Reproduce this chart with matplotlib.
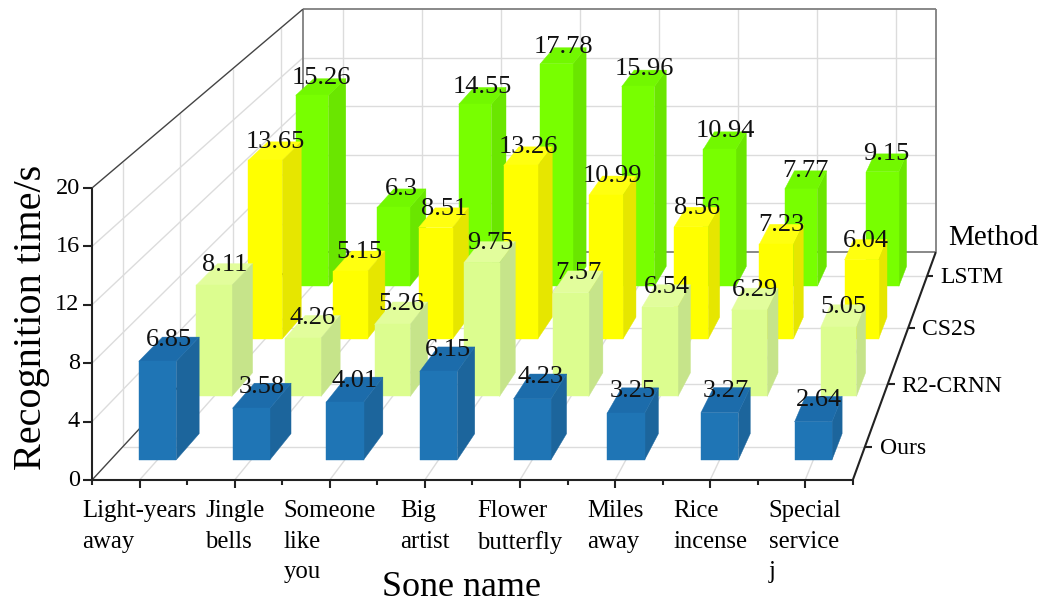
import numpy as np
import matplotlib
matplotlib.use('Agg')
import matplotlib.pyplot as plt
from mpl_toolkits.mplot3d import proj3d
from mpl_toolkits.mplot3d.art3d import Line3DCollection

plt.rcParams['font.family'] = ['Liberation Serif']

songs = ['Light-years\naway', 'Jingle\nbells', 'Someone\nlike\nyou', 'Big\nartist',
         'Flower\nbutterfly', 'Miles\naway', 'Rice\nincense', 'Special\nservice\nj']
methods = ['Ours', 'R2-CRNN', 'CS2S', 'LSTM']

ours = [6.85, 3.58, 4.01, 6.15, 4.23, 3.25, 3.27, 2.64]
r2_crnn = [8.11, 4.26, 5.26, 9.75, 7.57, 6.54, 6.29, 5.05]
cs2s = [13.65, 5.15, 8.51, 13.26, 10.99, 8.56, 7.23, 6.04]
lstm = [15.26, 6.3, 14.55, 17.78, 15.96, 10.94, 7.77, 9.15]
value_labels = [['6.85', '3.58', '4.01', '6.15', '4.23', '3.25', '3.27', '2.64'],
                ['8.11', '4.26', '5.26', '9.75', '7.57', '6.54', '6.29', '5.05'],
                ['13.65', '5.15', '8.51', '13.26', '10.99', '8.56', '7.23', '6.04'],
                ['15.26', '6.3', '14.55', '17.78', '15.96', '10.94', '7.77', '9.15']]
z_ticks = [0, 4, 8, 12, 16, 20]

# front, side, top colour for each method
colours = [('#1f75b5', '#1c659c', '#1c6cab'),
           ('#dcfd8f', '#c6e48a', '#e2fd9c'),
           ('#ffff00', '#e6e600', '#ffff10'),
           ('#78ff00', '#6ae600', '#72f800')]

fig = plt.figure(figsize=(10.41, 6.02), dpi=100)
ax = fig.add_axes([0, 0, 1, 1], projection='3d')
ax.set_axis_off()
ax.computed_zorder = False
ax.apply_aspect = lambda position=None: None


def oblique_proj():
    # front edge stays horizontal and verticals stay vertical, depth recedes to the right
    k = 0.05055
    cam = np.array([[95.1, 68.07, 0, 92],
                    [0, (602 - 252) * (1 + 4 * k) / 4 - 122 / 4, 14.6, 122],
                    [0, k, 0, 1]])
    m = ax.transData.inverted().get_matrix() @ cam
    return np.array([m[0], m[1], [0, 1, 0, 0], m[2]])


ax.get_proj = oblique_proj


def add_segs(segs, color, lw, zorder=1):
    ax.add_collection3d(Line3DCollection(segs, colors=color, linewidths=lw, zorder=zorder))


def label(x, y, z, s, **kw):
    # place the text at the projected spot so it is ordinary 2D text
    px, py, _ = proj3d.proj_transform(x, y, z, oblique_proj())
    ax.text2D(px, py, s, transform=ax.transData, zorder=50, **kw)


# walls and floor grid
grid_segs = []
for z in z_ticks[1:-1]:
    grid_segs.append([(0, 4, z), (8, 4, z)])
    grid_segs.append([(0, 0, z), (0, 4, z)])
for i in range(8):
    grid_segs.append([(i + 0.5, 0, 0), (i + 0.5, 4, 0)])
    grid_segs.append([(i + 0.5, 4, 0), (i + 0.5, 4, 20)])
for j in range(4):
    grid_segs.append([(0, j + 0.5, 0), (8, j + 0.5, 0)])
    grid_segs.append([(0, j + 0.5, 0), (0, j + 0.5, 20)])
add_segs(grid_segs, '#dcdcdc', 1.0)

# box outline
add_segs([[(0, 4, 20), (8, 4, 20)], [(0, 4, 0), (0, 4, 20)],
          [(8, 4, 0), (8, 4, 20)], [(0, 4, 0), (8, 4, 0)]], '#7f7f7f', 1.3, zorder=2)
add_segs([[(0, 0, 20), (0, 4, 20)], [(0, 0, 0), (0, 4, 0)]], '#444444', 1.0, zorder=2)

# axes lines and ticks
axis_segs = [[(0, 0, 0), (0, 0, 20)], [(0, 0, 0), (8, 0, 0)], [(8, 0, 0), (8, 4, 0)]]
for z in z_ticks:
    axis_segs.append([(-0.09, 0, z), (0, 0, z)])
    label(-0.13, 0, z, str(z), ha='right', va='center', fontsize=17.5)
for i in range(9):
    axis_segs.append([(i, 0, -0.35), (i, 0, 0)])
for i, name in enumerate(songs):
    axis_segs.append([(i + 0.5, 0, -0.55), (i + 0.5, 0, 0)])
    label(i + 0.5, 0, -1.4, name, ha='center', va='top', multialignment='left',
          fontsize=17.8, linespacing=1.49)
for j, name in enumerate(methods):
    axis_segs.append([(8, j + 0.5, 0), (8.08, j + 0.5, 0)])
    label(8.16, j + 0.5, -0.12, name, ha='left', va='center', fontsize=17)
add_segs(axis_segs, '#222222', 1.5, zorder=3)

# bars, one polygon set per method; hidden faces are left transparent
clear = (0, 0, 0, 0)
for j, vals in enumerate([ours, r2_crnn, cs2s, lstm]):
    front, side, top = colours[j]
    xs = np.arange(8) + 0.3
    ys = np.full(8, j + 0.3)
    face_cols = [clear, top, front, clear, clear, side] * 8
    ax.bar3d(xs, ys, np.zeros(8), 0.4, 0.4, vals, color=face_cols, edgecolor=face_cols,
             linewidth=0.3, shade=False, zorder=20 - j)
    for i, v in enumerate(vals):
        label(i + 0.5, j + 0.5, v - 0.15, value_labels[j][i], ha='center', va='bottom',
              fontsize=19, color='#111111')

fig.text(32 / 1041, 1 - 317 / 602, 'Recognition time/s', rotation=90, ha='center',
         va='center', fontsize=29)
fig.text(462 / 1041, 1 - 587 / 602, 'Sone name', ha='center', va='center', fontsize=26)
fig.text(993 / 1041, 1 - 238 / 602, 'Method', ha='center', va='center', fontsize=21)

fig.savefig('out.png', dpi=100)
